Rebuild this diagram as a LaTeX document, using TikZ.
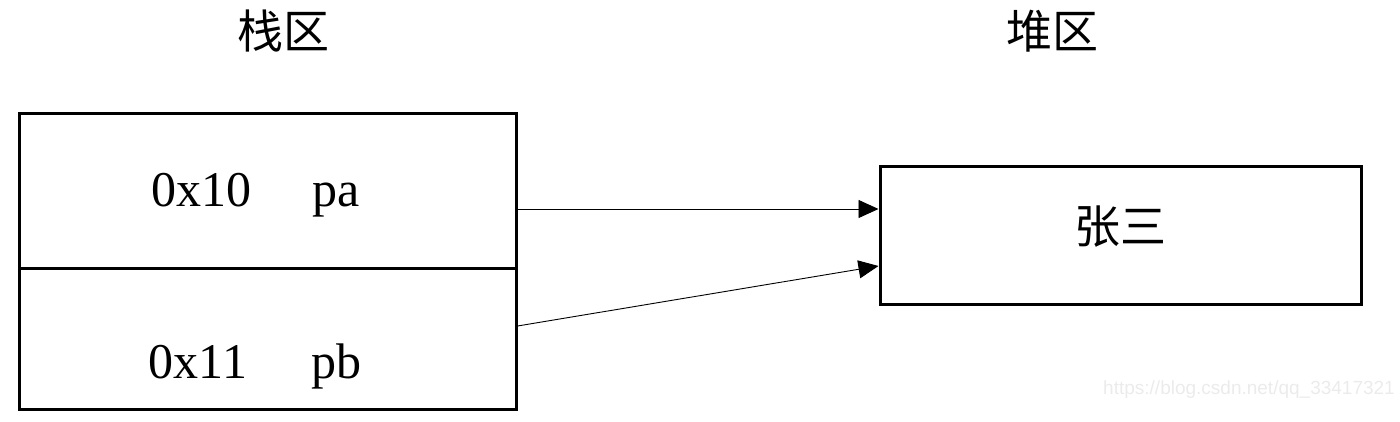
\documentclass[tikz,border=0pt]{standalone}
\usepackage{fontspec}
\setmainfont{Liberation Serif}
\newfontfamily\cjk{Noto Sans CJK SC}
\newfontfamily\wm{Liberation Sans}
\usetikzlibrary{arrows.meta}
\begin{document}
\begin{tikzpicture}[x=1pt,y=-1pt,
  cell/.style={draw,line width=3pt,inner sep=0pt},
  lbl/.style={inner sep=0pt,anchor=base,font=\fontsize{50}{56}\selectfont},
  ttl/.style={inner sep=0pt,font=\cjk\fontsize{46}{52}\selectfont},
  link/.style={line width=0.9pt,-{Triangle[length=20pt,width=18pt]}}]
\useasboundingbox (0,0) rectangle (1400,422);
\node[cell,minimum width=497pt,minimum height=154pt] (top) at (267.5,191) {};
\node[cell,minimum width=497pt,minimum height=141pt] (bot) at (267.5,338.5) {};
\node[cell,minimum width=481pt,minimum height=137pt] (heap) at (1120.5,235.5) {};
\node[ttl] (t1) at (283,31) {栈区};
\node[ttl] (t2) at (1052,31) {堆区};
\node[ttl] (zs) at (1120,227) {张三};
\node[lbl] (a1) at (201,207) {0x10};
\node[lbl] (a2) at (336,207) {pa};
\node[lbl] (b1) at (198,378) {0x11};
\node[lbl] (b2) at (336,378) {pb};
\draw[link] ([yshift=-18pt]top.east) -- ([yshift=26.5pt]heap.west);
\draw[link] ([yshift=12.5pt]bot.east) -- ([yshift=-30.5pt]heap.west);
\node[inner sep=0pt,text=black!8,font=\wm\fontsize{19}{22}\selectfont] (wm) at (1249,390) {https://blog.csdn.net/qq\_33417321};
\end{tikzpicture}
\end{document}
